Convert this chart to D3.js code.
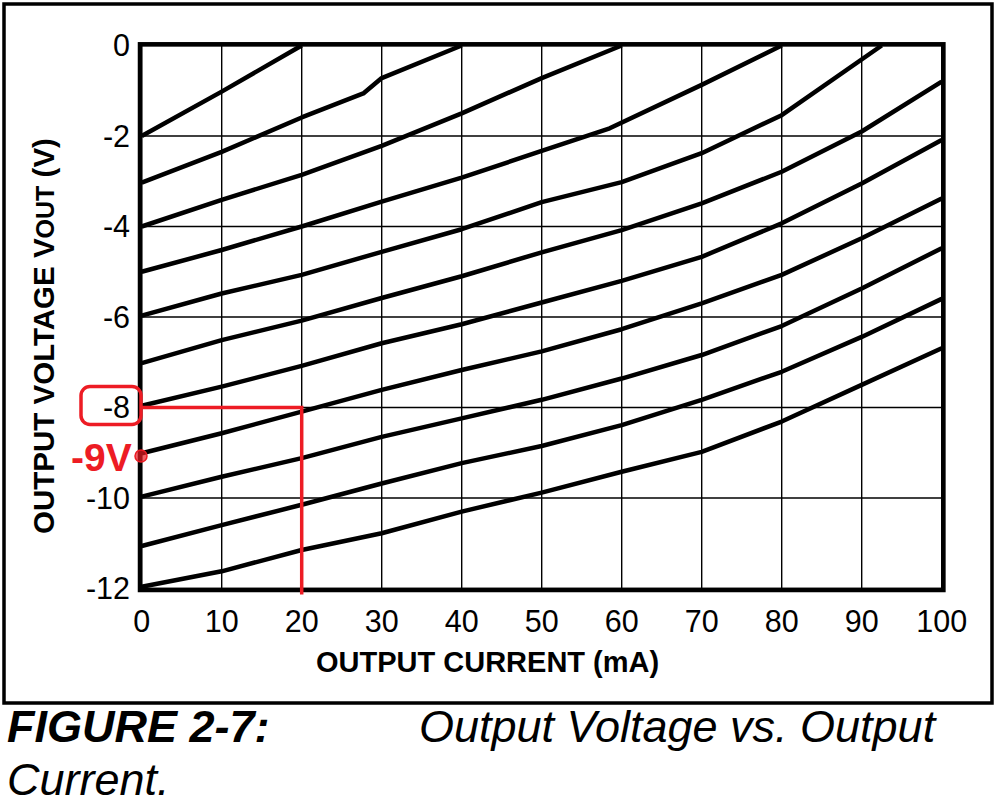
<!DOCTYPE html>
<html>
<head>
<meta charset="utf-8">
<script src="https://cdn.jsdelivr.net/npm/d3@7"></script>
<style>
  body { margin: 0; background: #fff; }
  svg { display: block; font-family: "Liberation Sans", Arial, sans-serif; }
</style>
</head>
<body>
<script>
// axis ticks
var currentTicks = [0, 10, 20, 30, 40, 50, 60, 70, 80, 90, 100]
var voltageTicks = [0, -2, -4, -6, -8, -10, -12]

// curves, [mA, V], one per starting voltage
var curveM2  = [[0,-2],[10,-1.02],[20,0]]
var curveM3  = [[0,-3.03],[10,-2.35],[20,-1.59],[27.7,-1.06],[30,-0.72],[40,0]]
var curveM4  = [[0,-4],[10,-3.41],[20,-2.86],[30,-2.22],[40,-1.5],[50,-0.72],[60,0]]
var curveM5  = [[0,-5],[10,-4.52],[20,-4.0],[30,-3.45],[40,-2.92],[50,-2.33],[58.5,-1.83],[70,-0.87],[80,0]]
var curveM6  = [[0,-5.97],[10,-5.48],[20,-5.07],[30,-4.56],[40,-4.06],[50,-3.46],[60,-3.02],[70,-2.38],[80,-1.54],[92.5,0]]
var curveM7  = [[0,-7.02],[10,-6.51],[20,-6.08],[30,-5.58],[40,-5.1],[50,-4.57],[60,-4.08],[70,-3.49],[80,-2.79],[90,-1.9],[100,-0.8]]
var curveM8  = [[0,-7.96],[10,-7.54],[20,-7.08],[30,-6.58],[40,-6.16],[50,-5.68],[60,-5.2],[70,-4.67],[80,-3.93],[90,-3.05],[100,-2.09]]
var curveM9  = [[0,-9.01],[10,-8.57],[20,-8.09],[30,-7.61],[40,-7.17],[50,-6.76],[60,-6.27],[70,-5.7],[80,-5.07],[90,-4.26],[100,-3.38]]
var curveM10 = [[0,-9.97],[10,-9.53],[20,-9.12],[30,-8.65],[40,-8.24],[50,-7.83],[60,-7.36],[70,-6.84],[80,-6.2],[90,-5.37],[100,-4.48]]
var curveM11 = [[0,-11.06],[10,-10.6],[20,-10.15],[30,-9.68],[40,-9.23],[50,-8.85],[60,-8.39],[70,-7.83],[80,-7.21],[90,-6.44],[100,-5.6]]
var curveM12 = [[0,-11.96],[10,-11.62],[20,-11.15],[30,-10.78],[40,-10.3],[50,-9.88],[60,-9.42],[70,-8.98],[80,-8.31],[90,-7.5],[100,-6.69]]
var curves = [curveM2, curveM3, curveM4, curveM5, curveM6, curveM7, curveM8, curveM9, curveM10, curveM11, curveM12]

// red annotation: operating point
var markCurrent = 20
var markVoltage = -8
var markLabel = "-9V"

var width = 1001
var height = 812
var red = "#ed1c24"

var svg = d3.select("body").append("svg")
    .attr("width", width)
    .attr("height", height)

var x = d3.scaleLinear().domain([0, 100]).range([141.7, 941.7])
var y = d3.scaleLinear().domain([-12, 0]).range([588.5, 45.5])

// outer frame
svg.append("rect")
    .attr("x", 4).attr("y", 4)
    .attr("width", 988).attr("height", 699)
    .style("fill", "none")
    .style("stroke", "black")
    .style("stroke-width", 3.5)

// grid
svg.append("g")
  .selectAll("line.v")
  .data(currentTicks)
  .join("line")
    .attr("x1", d => x(d)).attr("x2", d => x(d))
    .attr("y1", y(0)).attr("y2", y(-12))
    .style("stroke", "black").style("stroke-width", 1.4)

svg.append("g")
  .selectAll("line.h")
  .data(voltageTicks)
  .join("line")
    .attr("x1", x(0)).attr("x2", x(100))
    .attr("y1", d => y(d)).attr("y2", d => y(d))
    .style("stroke", "black").style("stroke-width", 1.4)

// curves
var line = d3.line().x(d => x(d[0])).y(d => y(d[1]))

svg.append("g")
  .selectAll("path")
  .data(curves)
  .join("path")
    .attr("d", line)
    .style("fill", "none")
    .style("stroke", "black")
    .style("stroke-width", 4.5)
    .style("stroke-linejoin", "round")

// plot border
svg.append("rect")
    .attr("x", x(0) - 1.7).attr("y", y(0) - 1.2)
    .attr("width", x(100) - x(0) + 3.4)
    .attr("height", y(-12) - y(0) + 2.7)
    .style("fill", "none")
    .style("stroke", "black")
    .style("stroke-width", 4.5)

// tick labels
svg.append("g")
  .selectAll("text")
  .data(voltageTicks)
  .join("text")
    .attr("x", 130)
    .attr("y", d => y(d))
    .attr("dy", "0.35em")
    .attr("text-anchor", "end")
    .style("font-size", "30.5px")
    .text(d => d)

svg.append("g")
  .selectAll("text")
  .data(currentTicks)
  .join("text")
    .attr("x", d => x(d))
    .attr("y", 632)
    .attr("text-anchor", "middle")
    .style("font-size", "30.5px")
    .text(d => d)

// axis titles
svg.append("text")
    .attr("x", 316)
    .attr("y", 672)
    .style("font-size", "29px")
    .style("font-weight", "bold")
    .text("OUTPUT CURRENT (mA)")

var ytitle = svg.append("text")
    .attr("transform", "translate(54,336) rotate(-90)")
    .attr("text-anchor", "middle")
    .style("font-size", "29.5px")
    .style("font-weight", "bold")
ytitle.append("tspan").text("OUTPUT VOLTAGE V")
ytitle.append("tspan").style("font-size", "25px").text("OUT")
ytitle.append("tspan").text(" (V)")

// red annotation
svg.append("path")
    .attr("d", d3.line()([
      [x(0), y(markVoltage)],
      [x(markCurrent), y(markVoltage)],
      [x(markCurrent), y(-12) + 6]
    ]))
    .style("fill", "none")
    .style("stroke", red)
    .style("stroke-width", 3.5)

svg.append("rect")
    .attr("x", 81).attr("y", y(markVoltage) - 21)
    .attr("width", 60).attr("height", 38)
    .attr("rx", 9)
    .style("fill", "none")
    .style("stroke", red)
    .style("stroke-width", 3.5)

svg.append("text")
    .attr("x", 71)
    .attr("y", 471)
    .style("font-size", "39px")
    .style("font-weight", "bold")
    .style("fill", red)
    .text(markLabel)

svg.append("circle")
    .attr("cx", 141)
    .attr("cy", 456)
    .attr("r", 6)
    .style("fill", red)
    .style("fill-opacity", 0.7)
    .style("stroke", red)
    .style("stroke-width", 1.5)

// caption
svg.append("text")
    .attr("x", 7)
    .attr("y", 742)
    .style("font-size", "45px")
    .style("font-weight", "bold")
    .style("font-style", "italic")
    .text("FIGURE 2-7:")

svg.append("text")
    .attr("x", 419)
    .attr("y", 742)
    .style("font-size", "45px")
    .style("font-style", "italic")
    .text("Output Voltage vs. Output")

svg.append("text")
    .attr("x", 7)
    .attr("y", 795)
    .style("font-size", "45px")
    .style("font-style", "italic")
    .text("Current.")
</script>
</body>
</html>
